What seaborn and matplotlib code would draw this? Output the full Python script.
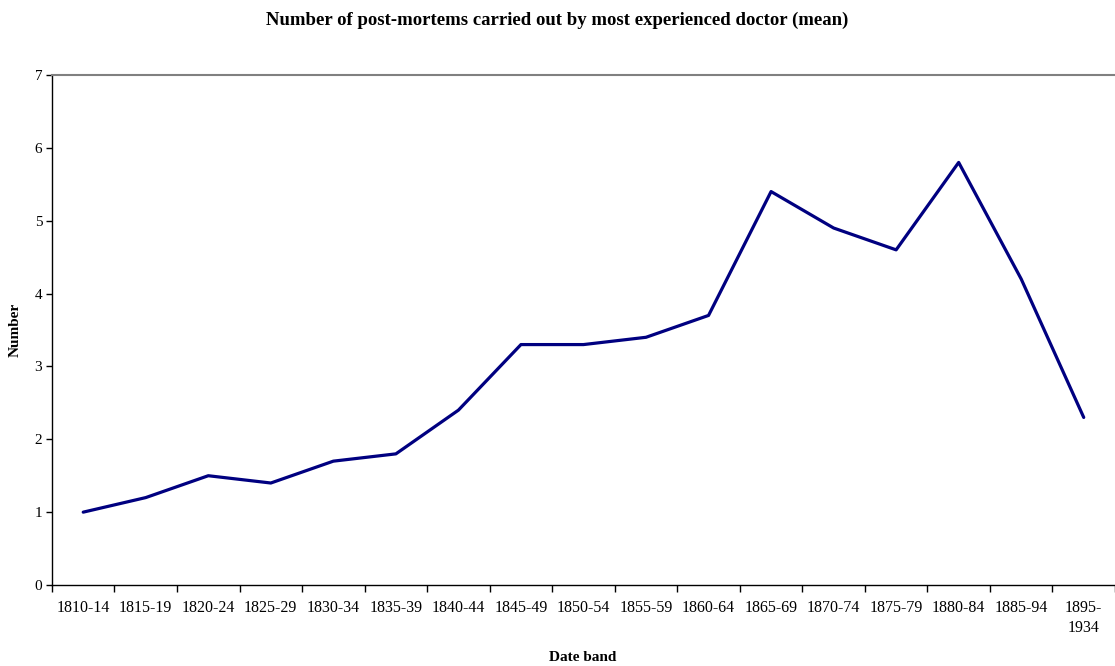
import matplotlib
matplotlib.use("Agg")
import matplotlib.pyplot as plt
import seaborn as sns
import pandas as pd

categories = ["1810-14", "1815-19", "1820-24", "1825-29", "1830-34", "1835-39",
              "1840-44", "1845-49", "1850-54", "1855-59", "1860-64", "1865-69",
              "1870-74", "1875-79", "1880-84", "1885-94", "1895-\n1934"]
values = [1.0, 1.2, 1.5, 1.4, 1.7, 1.8, 2.4, 3.3, 3.3, 3.4, 3.7, 5.4,
          4.9, 4.6, 5.8, 4.2, 2.3]
y_ticks = [0, 1, 2, 3, 4, 5, 6, 7]

sns.set_theme(style="white")
plt.rcParams['font.family'] = ['Liberation Serif', 'DejaVu Serif']
plt.rcParams['text.color'] = 'black'
plt.rcParams['axes.labelcolor'] = 'black'
plt.rcParams['xtick.color'] = 'black'
plt.rcParams['ytick.color'] = 'black'

df = pd.DataFrame({"pos": list(range(len(categories))), "value": values})

fig = plt.figure(figsize=(11.15, 6.66), dpi=100)
ax = fig.add_axes([0.0466, 0.1216, 0.9534, 0.7658])
sns.lineplot(data=df, x="pos", y="value", ax=ax, color="#000080", linewidth=2.3)

ax.set_xlim(-0.5, len(categories) - 0.5)
ax.set_ylim(0, 7)
ax.set_yticks(y_ticks)
ax.set_yticklabels([str(t) for t in y_ticks], fontsize=11)

# category boundaries as major ticks, labels at centers (minor)
ax.set_xticks([i - 0.5 for i in range(len(categories) + 1)])
ax.set_xticklabels([])
ax.set_xticks(list(range(len(categories))), minor=True)
ax.set_xticklabels(categories, minor=True, fontsize=11.5, linespacing=1.35)
ax.tick_params(axis="x", which="major", direction="out", length=5, width=1, color="black", bottom=True)
ax.tick_params(axis="x", which="minor", length=0, pad=11, bottom=True)
ax.tick_params(axis="y", direction="out", length=4, width=1, color="black", left=True, pad=3)

for side in ["left", "bottom"]:
    ax.spines[side].set_color("black")
    ax.spines[side].set_linewidth(1)
ax.spines["top"].set_color("#808080")
ax.spines["top"].set_linewidth(1.5)
ax.spines["right"].set_visible(False)

ax.set_xlabel("")
ax.set_ylabel("")
fig.text(0.5222, 0.0135, "Date band", ha="center", va="center",
         fontsize=11, fontweight="bold")
fig.text(0.0135, 0.5045, "Number", ha="center", va="center", rotation=90,
         fontsize=11, fontweight="bold")
fig.text(0.5, 0.969, "Number of post-mortems carried out by most experienced doctor (mean)",
         ha="center", va="center", fontsize=13.5, fontweight="bold")

fig.savefig("out.png", dpi=100)
